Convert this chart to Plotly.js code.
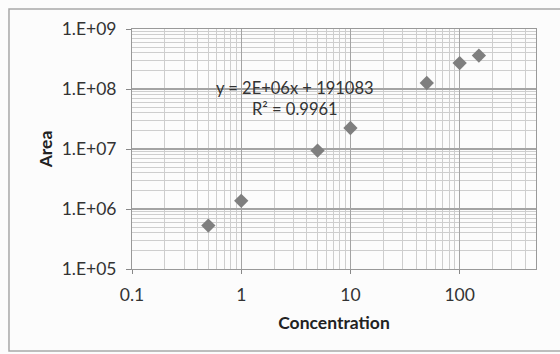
<!DOCTYPE html>
<html>
<head>
<meta charset="utf-8">
<script src="https://cdn.plot.ly/plotly-3.0.1.min.js"></script>
<style>
  html, body { margin: 0; padding: 0; background: #fcfcfc; }
  #chart { width: 560px; height: 354px; }
</style>
</head>
<body>
<div id="chart"></div>
<script>
// Calibration standards: concentration vs. peak area
const concentration = [0.5, 1, 5, 10, 50, 100, 150];
const area = [5.3e5, 1.37e6, 9.4e6, 2.24e7, 1.26e8, 2.7e8, 3.6e8];

const xTickVals = [0.1, 1, 10, 100];
const xTickText = ['0.1', '1', '10', '100'];
const yTickVals = [1e5, 1e6, 1e7, 1e8, 1e9];
const yTickText = ['1.E+05', '1.E+06', '1.E+07', '1.E+08', '1.E+09'];

const trendLabel = 'y = 2E+06x + 191083<br>R² = 0.9961';

const font = 'Lato, "Open Sans", "Liberation Sans", sans-serif';
const majorGrid = '#a4a4a4';
const minorGrid = '#cecece';

const trace = {
  x: concentration,
  y: area,
  type: 'scatter',
  mode: 'markers',
  marker: { symbol: 'diamond', size: 11, color: '#7f7f7f' },
  hoverinfo: 'x+y'
};

const layout = {
  width: 560,
  height: 354,
  margin: { l: 132, r: 24, t: 29, b: 85 },
  paper_bgcolor: '#fcfcfc',
  plot_bgcolor: '#fcfcfc',
  showlegend: false,
  font: { family: font, size: 17, color: '#333' },
  xaxis: {
    type: 'log',
    range: [-1, Math.log10(500)],
    tickmode: 'array',
    tickvals: xTickVals,
    ticktext: xTickText,
    tickfont: { size: 17.5 },
    ticks: 'outside',
    ticklen: 4,
    tickcolor: '#888',
    ticklabelstandoff: 6,
    showgrid: true,
    gridcolor: majorGrid,
    gridwidth: 1.3,
    minor: { dtick: 'D1', showgrid: true, gridcolor: minorGrid, gridwidth: 1 },
    showline: true,
    linecolor: '#999',
    mirror: true,
    zeroline: false,
    title: { text: 'Concentration', font: { size: 17.5, color: '#222', weight: 'bold' }, standoff: 12 }
  },
  yaxis: {
    type: 'log',
    range: [5, 9],
    tickmode: 'array',
    tickvals: yTickVals,
    ticktext: yTickText,
    tickfont: { size: 17.5 },
    ticks: 'outside',
    ticklen: 5,
    tickcolor: '#888',
    ticklabelstandoff: 6,
    showgrid: true,
    gridcolor: majorGrid,
    gridwidth: 1.3,
    minor: { dtick: 'D1', showgrid: true, gridcolor: minorGrid, gridwidth: 1 },
    showline: true,
    linecolor: '#999',
    mirror: true,
    zeroline: false,
    title: { text: 'Area', font: { size: 17.5, color: '#222', weight: 'bold' }, standoff: 4 }
  },
  annotations: [{
    xref: 'paper', yref: 'paper',
    x: 0.4035, y: 0.7125,
    xanchor: 'center', yanchor: 'middle',
    text: trendLabel,
    showarrow: false,
    align: 'center',
    font: { family: font, size: 16.5, color: '#333' }
  }],
  shapes: [{
    // chart frame
    type: 'rect', xref: 'paper', yref: 'paper',
    x0: -0.3045, x1: 1.07, y0: -0.3417, y1: 1.0833,
    line: { color: '#a8a8a8', width: 1.5 },
    fillcolor: 'rgba(0,0,0,0)',
    layer: 'below'
  }]
};

Plotly.newPlot('chart', [trace], layout, { staticPlot: true, displayModeBar: false });
</script>
</body>
</html>
